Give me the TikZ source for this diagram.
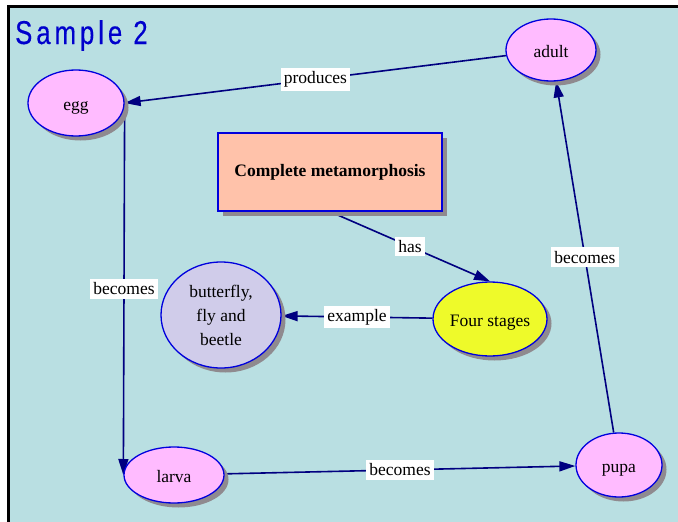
\documentclass[tikz,border=0pt]{standalone}
\usepackage{fontspec}
\setmainfont{Liberation Serif}
\newfontfamily\headfont[FakeStretch=0.78,LetterSpace=12,FakeBold=0.3]{Liberation Sans}
\usetikzlibrary{shapes.geometric,arrows.meta,shadows}

\definecolor{bgcyan}{HTML}{B9DFE2}
\definecolor{stagepink}{HTML}{FFBBFF}
\definecolor{lavender}{HTML}{D0CCEA}
\definecolor{lemon}{HTML}{EEFA2A}
\definecolor{peach}{HTML}{FFC2AA}
\definecolor{edgenavy}{HTML}{000080}
\definecolor{rimblue}{HTML}{0000DD}
\definecolor{shadowgray}{HTML}{8F8A8F}
\definecolor{titleblue}{HTML}{0000CC}

\pgfdeclarelayer{backdrop}
\pgfdeclarelayer{links}
\pgfsetlayers{backdrop,links,main}

\tikzset{
  shadowed/.style={drop shadow={shadow xshift=4.5pt,shadow yshift=-4.5pt,fill=shadowgray,opacity=1}},
  concept/.style={shape=ellipse,draw=rimblue,line width=1.3pt,inner sep=0pt,
    font=\fontsize{17.5}{24}\selectfont,align=center,shadowed},
  stage/.style={concept,fill=stagepink,text depth=0pt,text height=14pt},
  topic/.style={shape=rectangle,draw=rimblue,line width=1.3pt,fill=peach,
    minimum width=224pt,minimum height=78pt,inner sep=0pt,
    font=\fontsize{17.5}{24}\selectfont\bfseries,shadowed},
  link/.style={draw=edgenavy,line width=1.6pt,-{Triangle[length=16pt,width=10pt]}},
  tag/.style={fill=white,text=black,inner xsep=3pt,inner ysep=3.5pt,
    font=\fontsize{17.5}{20}\selectfont}
}

\begin{document}
\begin{tikzpicture}[x=1pt,y=-1pt]
  \clip (0,0) rectangle (678,522);

  % panel with its framed top and left edges
  \begin{pgfonlayer}{backdrop}
    \fill[white] (0,0) rectangle (678,522);
    \draw[black,line width=3pt,fill=bgcyan] (8.5,6.5) rectangle (700,540);
  \end{pgfonlayer}

  \node[anchor=base west,text=titleblue,inner sep=0pt,
        font=\fontsize{33}{33}\headfont] (title) at (15,44) {Sample 2};

  % concepts
  \node[stage,minimum width=96pt,minimum height=66pt] (egg) at (76,103) {egg};
  \node[stage,minimum width=90pt,minimum height=62pt] (adult) at (551,50) {adult};
  \node[stage,minimum width=100pt,minimum height=56pt] (larva) at (174,475) {larva};
  \node[stage,minimum width=86pt,minimum height=64pt] (pupa) at (619,465) {pupa};
  \node[concept,fill=lemon,minimum width=114pt,minimum height=74pt,
        text depth=0pt,text height=14pt] (four) at (490,319) {Four stages};
  \node[concept,fill=lavender,minimum width=120pt,minimum height=106pt] (bugs) at (221,315)
    {butterfly,\\fly and\\beetle};
  \node[topic] (cm) at (330,172) {Complete metamorphosis};

  % relations
  \begin{pgfonlayer}{links}
    \draw[link] (adult) -- node[tag] {produces} (egg.east);
    \draw[link] (egg.east) -- node[tag] {becomes} (larva.west);
    \draw[link] (larva) -- node[tag] {becomes} (pupa);
    \draw[link] (pupa) -- node[tag] {becomes} (adult);
    \draw[link] (cm.south) -- node[tag] {has} (four.north);
    \draw[link] (four) -- node[tag] {example} (bugs);
  \end{pgfonlayer}
\end{tikzpicture}
\end{document}
